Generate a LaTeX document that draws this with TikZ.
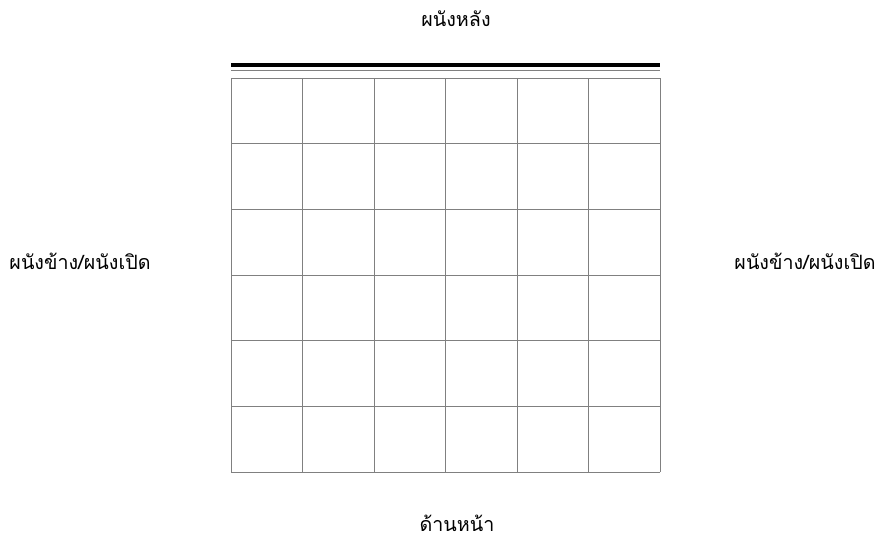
\documentclass[tikz,border=0pt]{standalone}
\usepackage{fontspec}
\newfontfamily\thaifont[Script=Thai]{Loma}
\usetikzlibrary{positioning}

\tikzset{
  walllabel/.style={font=\thaifont\fontsize{14}{16}\selectfont, inner sep=0pt},
  gridline/.style={draw=black!50, line width=0.6pt}
}

\begin{document}
\begin{tikzpicture}[x=0.025cm, y=-0.025cm]
    \useasboundingbox (0,0) rectangle (881,540);

    % Floor grid
    \foreach \i in {0,...,6} {
        \draw[gridline] (231+\i*71.5, 78) -- (231+\i*71.5, 472);
        \draw[gridline] (231, 78+\i*65.67) -- (660, 78+\i*65.67);
    }

    % Back wall
    \coordinate (wallL) at (231, 65);
    \coordinate (wallR) at (660, 65);
    \draw[line width=2.8pt] (wallL) -- (wallR);
    \draw[draw=black!50, line width=0.6pt] (231, 70.5) -- (660, 70.5);

    % Labels
    \node[walllabel] (back) at (456, 19) {ผนังหลัง};
    \node[walllabel] (leftwall) at (80, 261) {ผนังข้าง/ผนังเปิด};
    \node[walllabel] (rightwall) at (805, 261) {ผนังข้าง/ผนังเปิด};
    \node[walllabel] (front) at (457, 523) {ด้านหน้า};
\end{tikzpicture}
\end{document}
